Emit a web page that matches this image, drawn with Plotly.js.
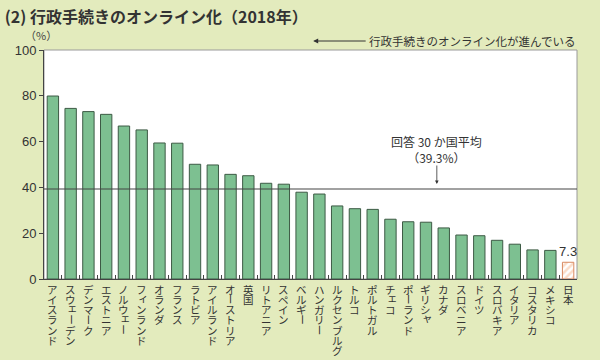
<!DOCTYPE html>
<html>
<head>
<meta charset="utf-8">
<script src="https://cdn.plot.ly/plotly-3.0.1.min.js"></script>
<style>html,body{margin:0;padding:0;background:#e3ebbd;}#chart{width:600px;height:360px;}</style>
</head>
<body>
<div id="chart"></div>
<script>
const categories = ["アイスランド","スウェーデン","デンマーク","エストニア","ノルウェー","フィンランド","オランダ","フランス","ラトビア","アイルランド","オーストリア","英国","リトアニア","スペイン","ベルギー","ハンガリー","ルクセンブルグ","トルコ","ポルトガル","チェコ","ポーランド","ギリシャ","カナダ","スロベニア","ドイツ","スロバキア","イタリア","コスタリカ","メキシコ","日本"];
const values = [79.9,74.5,73.1,71.9,66.8,65.1,59.4,59.3,50.1,49.8,45.7,45.1,41.8,41.4,37.9,37.1,31.9,30.7,30.4,26.1,25.0,24.8,22.3,19.2,18.9,16.9,15.2,12.7,12.5,7.3];
const highlight = "日本";
const average = 39.3;
const yTicks = [0,20,40,60,80,100];
const titleText = "(2) 行政手続きのオンライン化（2018年）";
const unitText = "（%）";
const trendText = "行政手続きのオンライン化が進んでいる";
const avgText = "回答 30 か国平均<br>（39.3%）";

const green = "#7dc091", greenLine = "#3d5a45";
const fillColors = categories.map(c => c === highlight ? "#fbdcc8" : green);
const lineColors = categories.map(c => c === highlight ? "#d98a62" : greenLine);
const patternShapes = categories.map(c => c === highlight ? "/" : "");
const barText = categories.map((c,i) => c === highlight ? String(values[i]) : "");

const trace = {
  type: "bar",
  x: categories,
  y: values,
  text: barText,
  textposition: "outside",
  constraintext: "none",
  cliponaxis: false,
  textfont: {family: "Liberation Sans, Arial, sans-serif", size: 13, color: "#333"},
  marker: {
    color: fillColors,
    line: {color: lineColors, width: 1},
    pattern: {shape: patternShapes, fgcolor: "#e58a62", bgcolor: "#fbdcc8", size: 5, solidity: 0.5, fillmode: "replace"}
  },
  hoverinfo: "none"
};

const jpFont = "Noto Sans CJK JP, sans-serif";
const annotations = [];
const smallKana = "ァィゥェォャュョッ";
categories.forEach(c => {
  Array.from(c).forEach((ch, k) => {
    const a = {
      x: c, xref: "x", y: 0, yref: "paper",
      text: ch, showarrow: false,
      font: {family: jpFont, size: 10.5, color: "#333"},
      xanchor: "center", yanchor: "middle",
      yshift: -(10 + k * 10.3)
    };
    if (ch === "ー") a.textangle = 90;
    if (smallKana.includes(ch)) { a.xshift = 2; a.yshift += 2; }
    annotations.push(a);
  });
});
// unit label
annotations.push({x: -0.005, xref: "paper", y: 1.0, yref: "paper", yshift: 15, text: unitText, showarrow: false,
  font: {family: jpFont, size: 11, color: "#444"}, xanchor: "center", yanchor: "middle"});
// trend arrow
annotations.push({x: 0.505, xref: "paper", y: 1.0, yref: "paper", yshift: 9, ax: 54, ay: 0, axref: "pixel", ayref: "pixel",
  text: "", showarrow: true, arrowhead: 2, arrowsize: 1, arrowwidth: 1, arrowcolor: "#333"});
annotations.push({x: 1.0, xref: "paper", y: 1.0, yref: "paper", yshift: 9, text: trendText, showarrow: false,
  font: {family: jpFont, size: 11.5, color: "#333"}, xanchor: "right", yanchor: "middle"});
// average label and arrow
annotations.push({x: 0.737, xref: "paper", y: average, yref: "y", yshift: 40, text: avgText, showarrow: false,
  font: {family: jpFont, size: 12, color: "#333"}, xanchor: "center", yanchor: "middle"});
annotations.push({x: 0.737, xref: "paper", y: average, yref: "y", yshift: 5, ax: 0, ay: -20, axref: "pixel", ayref: "pixel",
  text: "", showarrow: true, arrowhead: 2, arrowsize: 0.9, arrowwidth: 0.8, arrowcolor: "#333"});

const layout = {
  width: 600, height: 360,
  paper_bgcolor: "#e3ebbd",
  plot_bgcolor: "#ffffff",
  margin: {l: 44, r: 23, t: 50, b: 81},
  title: {text: "<b>" + titleText + "</b>", x: 0.008, xanchor: "left", xref: "container",
          y: 0.952, yref: "container", yanchor: "middle",
          font: {family: jpFont, size: 16, color: "#333"}},
  bargap: 0.36,
  showlegend: false,
  xaxis: {
    type: "category",
    showticklabels: false,
    ticks: "inside", tickson: "boundaries", ticklen: 4, tickcolor: "#444", tickwidth: 1,
    showline: true, linecolor: "#444", linewidth: 1,
    showgrid: false, zeroline: false, fixedrange: true
  },
  yaxis: {
    range: [0, 100],
    tickvals: yTicks,
    ticks: "outside", ticklen: 4, tickcolor: "#444",
    showline: true, linecolor: "#444", linewidth: 1,
    showgrid: false, zeroline: false,
    tickfont: {family: "Liberation Sans, Arial, sans-serif", size: 13, color: "#333"},
    fixedrange: true
  },
  shapes: [
    {type: "rect", xref: "paper", yref: "paper", x0: 0, x1: 1, y0: 0, y1: 1,
     line: {color: "#9a9a9a", width: 1}, layer: "below"},
    {type: "line", xref: "paper", yref: "y", x0: 0, x1: 1, y0: average, y1: average,
     line: {color: "#444", width: 1.2}, layer: "above"}
  ],
  annotations: annotations
};

Plotly.newPlot("chart", [trace], layout, {staticPlot: true, displayModeBar: false});
</script>
</body>
</html>
